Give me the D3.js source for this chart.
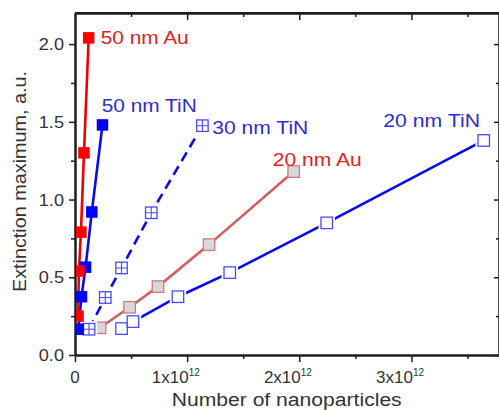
<!DOCTYPE html>
<html>
<head>
<meta charset="utf-8">
<script src="https://cdn.jsdelivr.net/npm/d3@7"></script>
<style>
  body { margin: 0; background: #fff; }
  text { font-family: "Liberation Sans", Arial, sans-serif; }
</style>
</head>
<body>
<div id="chart"></div>
<script>
// values (x = number of nanoparticles)
const au50X  = [0.027e12, 0.035e12, 0.053e12, 0.08e12, 0.122e12];
const au50Y  = [0.25, 0.54, 0.79, 1.30, 2.04];
const tin50X = [0.03e12, 0.058e12, 0.094e12, 0.15e12, 0.245e12];
const tin50Y = [0.166, 0.375, 0.565, 0.92, 1.48];
const tin30X = [0.125e12, 0.27e12, 0.415e12, 0.68e12, 1.136e12];
const tin30Y = [0.166, 0.37, 0.56, 0.915, 1.475];
const au20X  = [0.223e12, 0.487e12, 0.74e12, 1.195e12, 1.95e12];
const au20Y  = [0.175, 0.307, 0.44, 0.71, 1.18];
const tin20X = [0.415e12, 0.517e12, 0.918e12, 1.38e12, 2.245e12, 3.645e12];
const tin20Y = [0.17, 0.215, 0.375, 0.53, 0.85, 1.38];

const seriesNames = ["50 nm Au", "50 nm TiN", "30 nm TiN", "20 nm Au", "20 nm TiN"];
const xMajor = [0, 1e12, 2e12, 3e12];
const xMinor = [0.5e12, 1.5e12, 2.5e12, 3.5e12];
const xTickLabels = ["0", "1x10", "2x10", "3x10"];
const yMajor = [0, 0.5, 1.0, 1.5, 2.0];
const yMinor = [0.25, 0.75, 1.25, 1.75];

const W = 499, H = 410;
const margin = {top: 13, left: 75, right: -1, bottom: 55};

const svg = d3.select("#chart").append("svg")
    .attr("width", W)
    .attr("height", H);

const x = d3.scaleLinear().domain([0, 3.79e12]).range([margin.left, W - margin.right]);
const y = d3.scaleLinear().domain([0, 2.2]).range([H - margin.bottom, margin.top]);

function zip(xs, ys) { return xs.map((v, i) => ({x: v, y: ys[i]})); }

function stretch(sel, k) {
    sel.each(function() {
        const w = this.getComputedTextLength();
        d3.select(this).attr("textLength", w * k).attr("lengthAdjust", "spacingAndGlyphs");
    });
}

const axisColor = "#1e1e1e";

// axes: major and minor ticks
function styleAxis(g) {
    g.selectAll("path.domain").attr("stroke", axisColor).attr("stroke-width", 2);
    g.selectAll(".tick line").attr("stroke", axisColor).attr("stroke-width", 1.5);
    g.selectAll(".tick text").remove();
}

svg.append("g").attr("transform", `translate(0,${y(0)})`)
    .call(d3.axisBottom(x).tickValues(xMajor).tickSize(7).tickSizeOuter(0).tickFormat(""))
    .call(styleAxis);
svg.append("g").attr("transform", `translate(0,${y(0)})`)
    .call(d3.axisBottom(x).tickValues(xMinor).tickSize(4).tickSizeOuter(0).tickFormat(""))
    .call(styleAxis);
svg.append("g").attr("transform", `translate(0,${y(2.2)})`)
    .call(d3.axisBottom(x).tickValues(xMajor.slice(1)).tickSize(7).tickSizeOuter(0).tickFormat(""))
    .call(styleAxis);
svg.append("g").attr("transform", `translate(0,${y(2.2)})`)
    .call(d3.axisBottom(x).tickValues(xMinor).tickSize(4).tickSizeOuter(0).tickFormat(""))
    .call(styleAxis);
svg.append("g").attr("transform", `translate(${x(0)},0)`)
    .call(d3.axisLeft(y).tickValues(yMajor).tickSize(6).tickSizeOuter(0).tickFormat(""))
    .call(styleAxis);
svg.append("g").attr("transform", `translate(${x(0)},0)`)
    .call(d3.axisLeft(y).tickValues(yMinor).tickSize(4).tickSizeOuter(0).tickFormat(""))
    .call(styleAxis);
svg.append("g").attr("transform", `translate(${x(3.79e12) - 1},0)`)
    .call(d3.axisLeft(y).tickValues(yMajor).tickSize(5).tickSizeOuter(0).tickFormat(""))
    .call(styleAxis);
svg.append("g").attr("transform", `translate(${x(3.79e12) - 1},0)`)
    .call(d3.axisLeft(y).tickValues(yMinor).tickSize(3).tickSizeOuter(0).tickFormat(""))
    .call(styleAxis);

// tick labels
svg.append("g").selectAll("text")
    .data(yMajor)
    .join("text")
    .attr("x", x(0) - 11)
    .attr("y", d => y(d) + 6)
    .attr("text-anchor", "end")
    .attr("font-size", 16.5)
    .attr("fill", "#333")
    .text(d3.format(".1f"))
    .call(stretch, 1.1);

const xLab = svg.append("g");
xLab.selectAll("text.base")
    .data(xMajor)
    .join("text")
    .attr("class", "base")
    .attr("x", (d, i) => i === 0 ? x(d) : x(d) + 1.5)
    .attr("y", 383)
    .attr("text-anchor", (d, i) => i === 0 ? "middle" : "end")
    .attr("font-size", 16.5)
    .attr("fill", "#333")
    .text((d, i) => xTickLabels[i])
    .call(stretch, 1.03);
xLab.selectAll("text.sup")
    .data(xMajor.slice(1))
    .join("text")
    .attr("class", "sup")
    .attr("x", d => x(d) + 1.5)
    .attr("y", 376)
    .attr("font-size", 10)
    .attr("fill", "#333")
    .text("12");

// axis titles
svg.append("text")
    .attr("x", 286.7)
    .attr("y", 405.5)
    .attr("text-anchor", "middle")
    .attr("font-size", 18)
    .attr("fill", "#333")
    .text("Number of nanoparticles")
    .attr("textLength", 230)
    .attr("lengthAdjust", "spacingAndGlyphs");

svg.append("text")
    .attr("transform", "translate(25.5,181.5) rotate(-90)")
    .attr("text-anchor", "middle")
    .attr("font-size", 18)
    .attr("fill", "#333")
    .text("Extinction maximum, a.u.")
    .attr("textLength", 221)
    .attr("lengthAdjust", "spacingAndGlyphs");

// data
svg.append("clipPath").attr("id", "plot-clip")
    .append("rect")
    .attr("x", x(0) + 1)
    .attr("y", y(2.2) + 1)
    .attr("width", x(3.79e12) - x(0))
    .attr("height", y(0) - y(2.2) - 2);

const plot = svg.append("g").attr("clip-path", "url(#plot-clip)");

const line = d3.line().x(d => x(d.x)).y(d => y(d.y));
const S = 11.5;

const series = [
    {name: seriesNames[4], data: zip(tin20X, tin20Y), stroke: "#0a0af0", dash: null, marker: "open", mk: "#4a4aff", fill: "#fff"},
    {name: seriesNames[3], data: zip(au20X, au20Y), stroke: "#d35f5f", dash: null, marker: "filled", mk: "#d47878", fill: "#d8d8d8"},
    {name: seriesNames[2], data: zip(tin30X, tin30Y), stroke: "#0a0af0", dash: "10,6", marker: "cross", mk: "#4a4aff", fill: "#fff"},
    {name: seriesNames[1], data: zip(tin50X, tin50Y), stroke: "#0a0af0", dash: null, marker: "filled", mk: "#0000ff", fill: "#0000ff"},
    {name: seriesNames[0], data: zip(au50X, au50Y), stroke: "#f00000", dash: null, marker: "filled", mk: "#ff0000", fill: "#ff0000"}
];

series.forEach(s => {
    plot.append("path")
        .attr("d", line(s.data))
        .attr("fill", "none")
        .attr("stroke", s.stroke)
        .attr("stroke-width", 2.6)
        .attr("stroke-dasharray", s.dash);
});

series.forEach(s => {
    const g = plot.append("g");
    if (s.marker !== "filled") {
        // Origin leaves a small gap round open symbols
        g.selectAll("rect.halo")
            .data(s.data)
            .join("rect")
            .attr("class", "halo")
            .attr("x", d => x(d.x) - S / 2 - 2.5)
            .attr("y", d => y(d.y) - S / 2 - 2.5)
            .attr("width", S + 5)
            .attr("height", S + 5)
            .attr("fill", "#fff");
    }
    g.selectAll("rect.mk")
        .data(s.data)
        .join("rect")
        .attr("class", "mk")
        .attr("x", d => x(d.x) - S / 2)
        .attr("y", d => y(d.y) - S / 2)
        .attr("width", S)
        .attr("height", S)
        .attr("fill", s.fill)
        .attr("stroke", s.mk)
        .attr("stroke-width", s.marker === "filled" && s.fill !== "#d8d8d8" ? 0 : 1.3);
    if (s.marker === "cross") {
        g.selectAll("path.cr")
            .data(s.data)
            .join("path")
            .attr("class", "cr")
            .attr("d", d => {
                const cx = x(d.x), cy = y(d.y);
                return `M${cx},${cy - S / 2}V${cy + S / 2}M${cx - S / 2},${cy}H${cx + S / 2}`;
            })
            .attr("stroke", s.mk)
            .attr("stroke-width", 1.1);
    }
});

// frame line on top
svg.append("line")
    .attr("x1", x(0)).attr("x2", W)
    .attr("y1", y(2.2)).attr("y2", y(2.2))
    .attr("stroke", axisColor).attr("stroke-width", 2);

// series labels
const labelData = [
    {text: seriesNames[0], x: 100.7, y: 44, len: 88, color: "#dd2424"},
    {text: seriesNames[1], x: 101.7, y: 111.5, len: 95, color: "#2d2dcc"},
    {text: seriesNames[2], x: 212.3, y: 133.5, len: 96, color: "#2d2dcc"},
    {text: seriesNames[3], x: 272.7, y: 166, len: 89, color: "#dd2424"},
    {text: seriesNames[4], x: 383.3, y: 127, len: 96.7, color: "#2d2dcc"}
];

svg.append("g").selectAll("text")
    .data(labelData)
    .join("text")
    .attr("x", d => d.x)
    .attr("y", d => d.y)
    .attr("font-size", 18)
    .attr("fill", d => d.color)
    .attr("textLength", d => d.len)
    .attr("lengthAdjust", "spacingAndGlyphs")
    .text(d => d.text);
</script>
</body>
</html>
